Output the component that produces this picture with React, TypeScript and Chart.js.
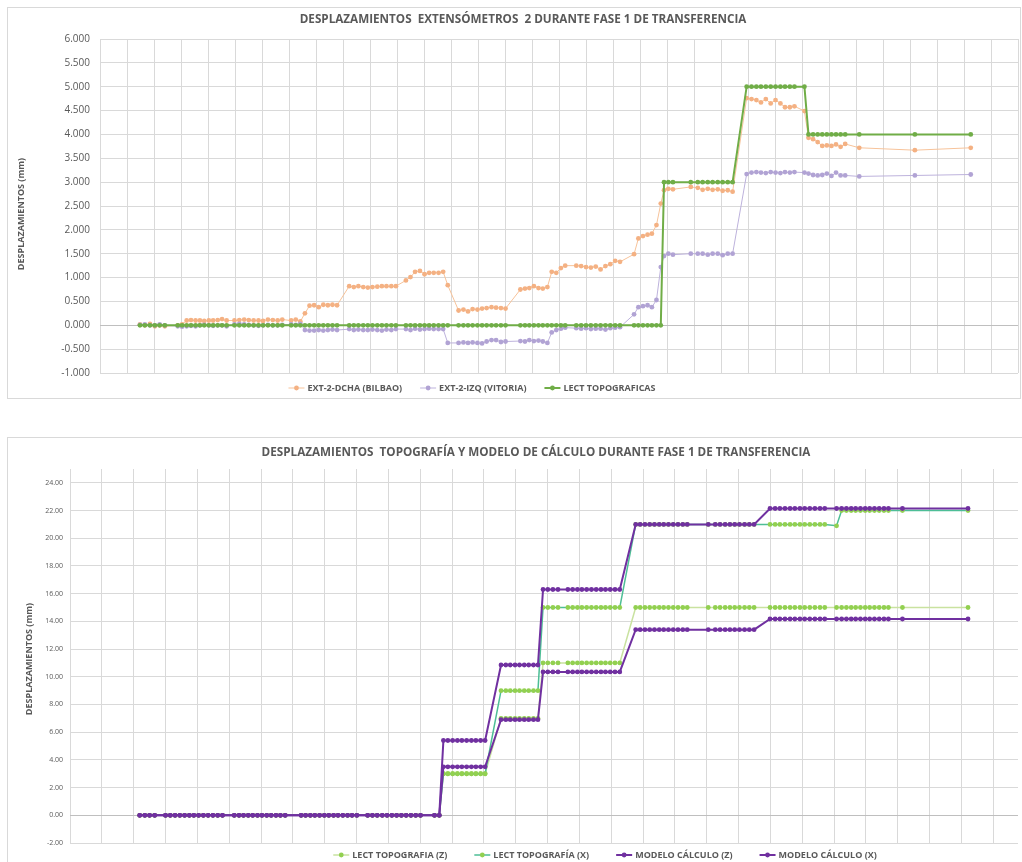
import React, { useEffect, useRef } from "react";
import { Chart, registerables } from "chart.js";
Chart.register(...registerables);

// ---------- TOP CHART DATA (x in grid units of the time axis) ----------
const topX = [
  1.48, 1.66, 1.85, 2.03, 2.21, 2.40,
  2.88, 3.04, 3.21, 3.37, 3.54, 3.70, 3.86, 4.03, 4.19, 4.36, 4.52, 4.69,
  4.98, 5.16, 5.34, 5.51, 5.69, 5.87, 6.04, 6.22, 6.40, 6.58, 6.75,
  7.08, 7.25, 7.42, 7.59, 7.76, 7.93, 8.10, 8.27, 8.44, 8.61, 8.78,
  9.23, 9.40, 9.57, 9.75, 9.92, 10.09, 10.27, 10.44, 10.61, 10.79, 10.96,
  11.33, 11.50, 11.67, 11.85, 12.02, 12.19, 12.36, 12.54, 12.71, 12.88,
  13.28, 13.46, 13.63, 13.80, 13.98, 14.15, 14.32, 14.50, 14.67, 14.85, 15.02,
  15.57, 15.74, 15.90, 16.07, 16.24, 16.40, 16.57, 16.73, 16.90, 17.07, 17.23,
  17.64, 17.82, 18.00, 18.18, 18.36, 18.54, 18.72, 18.90, 19.08, 19.26,
  19.78, 19.94, 20.11, 20.28, 20.44, 20.61, 20.77, 20.89, 21.05, 21.22,
  21.88,
  22.14, 22.32, 22.51, 22.69, 22.88, 23.06, 23.25, 23.43,
  23.95, 24.13, 24.31, 24.48, 24.66, 24.84, 25.02, 25.20, 25.37, 25.55, 25.72,
  26.09,
  26.24, 26.41, 26.58, 26.75, 26.92, 27.09, 27.26, 27.43, 27.60,
  28.12, 30.18, 32.25,
];

const extDchaBilbao = [
  0.02, 0.0, 0.03, -0.02, 0.0, -0.02,
  0.0, 0.02, 0.1, 0.11, 0.1, 0.1, 0.09, 0.1, 0.1, 0.11, 0.13, 0.1,
  0.1, 0.11, 0.12, 0.11, 0.1, 0.1, 0.09, 0.12, 0.11, 0.1, 0.12,
  0.1, 0.12, 0.08, 0.25, 0.41, 0.42, 0.38, 0.43, 0.42, 0.43, 0.42,
  0.82, 0.8, 0.82, 0.8, 0.79, 0.8, 0.81, 0.82, 0.82, 0.82, 0.82,
  0.94, 1.01, 1.12, 1.14, 1.07, 1.1, 1.1, 1.1, 1.12, 0.84,
  0.31, 0.33, 0.29, 0.34, 0.33, 0.35, 0.36, 0.38, 0.37, 0.36, 0.35,
  0.75, 0.77, 0.78, 0.82, 0.78, 0.77, 0.8, 1.12, 1.1, 1.2, 1.25,
  1.25, 1.24, 1.22, 1.21, 1.23, 1.17, 1.24, 1.28, 1.35, 1.33,
  1.49, 1.82, 1.87, 1.9, 1.92, 2.1, 2.55, 2.83, 2.86, 2.85,
  2.9,
  2.88, 2.84, 2.86, 2.84, 2.85, 2.82, 2.83, 2.8,
  4.76, 4.74, 4.72, 4.67, 4.74, 4.65, 4.72, 4.65, 4.57, 4.57, 4.59,
  4.49,
  3.93, 3.9, 3.84, 3.76, 3.77, 3.76, 3.79, 3.74, 3.8,
  3.72, 3.67, 3.72,
];

const extIzqVitoria = [
  0.01, 0.02, 0.0, 0.0, 0.02, 0.0,
  -0.02, -0.03, -0.02, -0.01, -0.02, 0.0, 0.01, 0.0, -0.01, 0.0, 0.0, -0.02,
  0.02, 0.03, 0.02, 0.01, 0.0, -0.01, 0.0, 0.01, 0.0, 0.0, 0.01,
  0.02, 0.01, 0.03, -0.1, -0.11, -0.11, -0.1, -0.11, -0.1, -0.09, -0.1,
  -0.08, -0.1, -0.09, -0.1, -0.1, -0.09, -0.1, -0.11, -0.09, -0.1, -0.08,
  -0.08, -0.1, -0.07, -0.09, -0.08, -0.07, -0.08, -0.08, -0.08, -0.37,
  -0.37, -0.36, -0.37, -0.36, -0.37, -0.38, -0.34, -0.31, -0.31, -0.35, -0.34,
  -0.33, -0.34, -0.31, -0.33, -0.32, -0.34, -0.37, -0.15, -0.1, -0.07, -0.05,
  -0.06, -0.07, -0.06, -0.08, -0.07, -0.07, -0.09, -0.06, -0.05, -0.04,
  0.23, 0.38, 0.4, 0.42, 0.38, 0.53, 1.22, 1.45, 1.5, 1.48,
  1.5,
  1.5, 1.5, 1.48, 1.5, 1.5, 1.47, 1.5, 1.5,
  3.17, 3.2, 3.21, 3.2, 3.19, 3.21, 3.2, 3.19, 3.21, 3.2, 3.21,
  3.2,
  3.18, 3.15, 3.14, 3.15, 3.18, 3.13, 3.2, 3.14, 3.14,
  3.12, 3.14, 3.16,
];

const lectTopograficas = [
  0, 0, 0, 0, 0, 0,
  0, 0, 0, 0, 0, 0, 0, 0, 0, 0, 0, 0,
  0, 0, 0, 0, 0, 0, 0, 0, 0, 0, 0,
  0, 0, 0, 0, 0, 0, 0, 0, 0, 0, 0,
  0, 0, 0, 0, 0, 0, 0, 0, 0, 0, 0,
  0, 0, 0, 0, 0, 0, 0, 0, 0, 0,
  0, 0, 0, 0, 0, 0, 0, 0, 0, 0, 0,
  0, 0, 0, 0, 0, 0, 0, 0, 0, 0, 0,
  0, 0, 0, 0, 0, 0, 0, 0, 0, 0,
  0, 0, 0, 0, 0, 0, 0, 3, 3, 3,
  3,
  3, 3, 3, 3, 3, 3, 3, 3,
  5, 5, 5, 5, 5, 5, 5, 5, 5, 5, 5,
  5,
  4, 4, 4, 4, 4, 4, 4, 4, 4,
  4, 4, 4,
];

const topYTicks = [-1, -0.5, 0, 0.5, 1, 1.5, 2, 2.5, 3, 3.5, 4, 4.5, 5, 5.5, 6];

// ---------- BOTTOM CHART DATA ----------
const botX = [
  2.19, 2.35, 2.50, 2.66,
  3.00, 3.15, 3.30, 3.45, 3.60, 3.75, 3.89, 4.04, 4.19, 4.34, 4.49, 4.64, 4.79,
  5.16, 5.31, 5.45, 5.60, 5.74, 5.89, 6.03, 6.18, 6.32, 6.47, 6.61, 6.76,
  7.26, 7.40, 7.55, 7.69, 7.84, 7.99, 8.13, 8.28, 8.42, 8.57, 8.72, 8.86, 9.01,
  9.35, 9.50, 9.65, 9.81, 9.96, 10.11, 10.26, 10.41, 10.56, 10.71, 10.86, 11.01,
  11.45, 11.60,
  11.73, 11.87, 12.02, 12.17, 12.31, 12.46, 12.61, 12.75, 12.90, 13.04,
  13.54, 13.69, 13.83, 13.98, 14.12, 14.27, 14.41, 14.56, 14.70,
  14.86, 15.01, 15.17, 15.33,
  15.64, 15.79, 15.94, 16.08, 16.23, 16.38, 16.53, 16.68, 16.82, 16.97, 17.12, 17.27,
  17.77, 17.91, 18.06, 18.21, 18.36, 18.51, 18.65, 18.80, 18.95, 19.10, 19.25, 19.39,
  20.05,
  20.27, 20.42, 20.58, 20.73, 20.88, 21.03, 21.19, 21.34, 21.49,
  21.99, 22.15, 22.30, 22.46, 22.62, 22.77, 22.93, 23.08, 23.24, 23.40, 23.56, 23.71,
  24.08,
  24.24, 24.39, 24.54, 24.68, 24.83, 24.98, 25.12, 25.27, 25.42, 25.57, 25.71,
  26.15,
  28.21,
];

const lectTopoZ = [
  0, 0, 0, 0,
  0, 0, 0, 0, 0, 0, 0, 0, 0, 0, 0, 0, 0,
  0, 0, 0, 0, 0, 0, 0, 0, 0, 0, 0, 0,
  0, 0, 0, 0, 0, 0, 0, 0, 0, 0, 0, 0, 0,
  0, 0, 0, 0, 0, 0, 0, 0, 0, 0, 0, 0,
  0, 0,
  3, 3, 3, 3, 3, 3, 3, 3, 3, 3,
  7, 7, 7, 7, 7, 7, 7, 7, 7,
  11, 11, 11, 11,
  11, 11, 11, 11, 11, 11, 11, 11, 11, 11, 11, 11,
  15, 15, 15, 15, 15, 15, 15, 15, 15, 15, 15, 15,
  15,
  15, 15, 15, 15, 15, 15, 15, 15, 15,
  15, 15, 15, 15, 15, 15, 15, 15, 15, 15, 15, 15,
  15,
  15, 15, 15, 15, 15, 15, 15, 15, 15, 15, 15,
  15,
  15,
];

const lectTopoX = [
  0, 0, 0, 0,
  0, 0, 0, 0, 0, 0, 0, 0, 0, 0, 0, 0, 0,
  0, 0, 0, 0, 0, 0, 0, 0, 0, 0, 0, 0,
  0, 0, 0, 0, 0, 0, 0, 0, 0, 0, 0, 0, 0,
  0, 0, 0, 0, 0, 0, 0, 0, 0, 0, 0, 0,
  0, 0,
  3, 3, 3, 3, 3, 3, 3, 3, 3, 3,
  9, 9, 9, 9, 9, 9, 9, 9, 9,
  15, 15, 15, 15,
  15, 15, 15, 15, 15, 15, 15, 15, 15, 15, 15, 15,
  21, 21, 21, 21, 21, 21, 21, 21, 21, 21, 21, 21,
  21,
  21, 21, 21, 21, 21, 21, 21, 21, 21,
  21, 21, 21, 21, 21, 21, 21, 21, 21, 21, 21, 21,
  20.9,
  22, 22, 22, 22, 22, 22, 22, 22, 22, 22, 22,
  22,
  22,
];

const modeloZ = [
  0, 0, 0, 0,
  0, 0, 0, 0, 0, 0, 0, 0, 0, 0, 0, 0, 0,
  0, 0, 0, 0, 0, 0, 0, 0, 0, 0, 0, 0,
  0, 0, 0, 0, 0, 0, 0, 0, 0, 0, 0, 0, 0,
  0, 0, 0, 0, 0, 0, 0, 0, 0, 0, 0, 0,
  0, 0,
  3.5, 3.5, 3.5, 3.5, 3.5, 3.5, 3.5, 3.5, 3.5, 3.5,
  6.9, 6.9, 6.9, 6.9, 6.9, 6.9, 6.9, 6.9, 6.9,
  10.35, 10.35, 10.35, 10.35,
  10.35, 10.35, 10.35, 10.35, 10.35, 10.35, 10.35, 10.35, 10.35, 10.35, 10.35, 10.35,
  13.4, 13.4, 13.4, 13.4, 13.4, 13.4, 13.4, 13.4, 13.4, 13.4, 13.4, 13.4,
  13.4,
  13.4, 13.4, 13.4, 13.4, 13.4, 13.4, 13.4, 13.4, 13.4,
  14.17, 14.17, 14.17, 14.17, 14.17, 14.17, 14.17, 14.17, 14.17, 14.17, 14.17, 14.17,
  14.17,
  14.17, 14.17, 14.17, 14.17, 14.17, 14.17, 14.17, 14.17, 14.17, 14.17, 14.17,
  14.17,
  14.17,
];

const modeloX = [
  0, 0, 0, 0,
  0, 0, 0, 0, 0, 0, 0, 0, 0, 0, 0, 0, 0,
  0, 0, 0, 0, 0, 0, 0, 0, 0, 0, 0, 0,
  0, 0, 0, 0, 0, 0, 0, 0, 0, 0, 0, 0, 0,
  0, 0, 0, 0, 0, 0, 0, 0, 0, 0, 0, 0,
  0, 0,
  5.4, 5.4, 5.4, 5.4, 5.4, 5.4, 5.4, 5.4, 5.4, 5.4,
  10.85, 10.85, 10.85, 10.85, 10.85, 10.85, 10.85, 10.85, 10.85,
  16.3, 16.3, 16.3, 16.3,
  16.3, 16.3, 16.3, 16.3, 16.3, 16.3, 16.3, 16.3, 16.3, 16.3, 16.3, 16.3,
  21, 21, 21, 21, 21, 21, 21, 21, 21, 21, 21, 21,
  21,
  21, 21, 21, 21, 21, 21, 21, 21, 21,
  22.15, 22.15, 22.15, 22.15, 22.15, 22.15, 22.15, 22.15, 22.15, 22.15, 22.15, 22.15,
  22.15,
  22.15, 22.15, 22.15, 22.15, 22.15, 22.15, 22.15, 22.15, 22.15, 22.15, 22.15,
  22.15,
  22.15,
];

const botYTicks = [-2, 0, 2, 4, 6, 8, 10, 12, 14, 16, 18, 20, 22, 24];

const TOP_TITLE = "DESPLAZAMIENTOS  EXTENSÓMETROS  2 DURANTE FASE 1 DE TRANSFERENCIA";
const BOT_TITLE = "DESPLAZAMIENTOS  TOPOGRAFÍA Y MODELO DE CÁLCULO DURANTE FASE 1 DE TRANSFERENCIA";
const Y_TITLE = "DESPLAZAMIENTOS (mm)";

const FONT = "'Open Sans', 'DejaVu Sans', sans-serif";
const TEXT = "#595959";
const GRID = "#D9D9D9";

const pts = (xs: number[], ys: number[]) => xs.map((x, i) => ({ x, y: ys[i] }));

type OverlayCfg = {
  title: { text: string; x: number; y: number; size: number };
  yTitle: { text: string; x: number; y: number; size: number };
  legend: { x: number; y: number; size: number; gap: number };
};

function makeOverlay(cfg: OverlayCfg) {
  return {
    id: "overlayText",
    afterDraw(chart: any) {
      const ctx: CanvasRenderingContext2D = chart.ctx;
      ctx.save();
      ctx.fillStyle = TEXT;
      ctx.textBaseline = "middle";
      // title
      ctx.font = `bold ${cfg.title.size}px ${FONT}`;
      ctx.textAlign = "center";
      ctx.fillText(cfg.title.text, cfg.title.x, cfg.title.y);
      // y title
      ctx.save();
      ctx.translate(cfg.yTitle.x, cfg.yTitle.y);
      ctx.rotate(-Math.PI / 2);
      ctx.font = `bold ${cfg.yTitle.size}px ${FONT}`;
      ctx.fillText(cfg.yTitle.text, 0, 0);
      ctx.restore();
      // legend
      ctx.font = `bold ${cfg.legend.size}px ${FONT}`;
      ctx.textAlign = "left";
      const sym = 16;
      const sgap = 3;
      const items = chart.data.datasets.map((d: any) => ({
        label: d.label,
        line: d.borderColor,
        point: d.pointBackgroundColor,
        lw: d.borderWidth,
        r: d.pointRadius,
        w: sym + sgap + ctx.measureText(d.label).width,
      }));
      const total = items.reduce((s: number, it: any) => s + it.w, 0) + cfg.legend.gap * (items.length - 1);
      let x = cfg.legend.x - total / 2;
      const cy = cfg.legend.y;
      for (const it of items) {
        ctx.strokeStyle = it.line;
        ctx.lineWidth = it.lw;
        ctx.beginPath();
        ctx.moveTo(x, cy);
        ctx.lineTo(x + sym, cy);
        ctx.stroke();
        ctx.fillStyle = it.point;
        ctx.beginPath();
        ctx.arc(x + sym / 2, cy, it.r, 0, Math.PI * 2);
        ctx.fill();
        ctx.fillStyle = TEXT;
        ctx.fillText(it.label, x + sym + sgap, cy + 0.5);
        x += it.w + cfg.legend.gap;
      }
      ctx.restore();
    },
  };
}

function TopChart() {
  const ref = useRef<HTMLCanvasElement>(null);
  useEffect(() => {
    const chart = new Chart(ref.current!, {
      type: "line",
      data: {
        datasets: [
          {
            label: "EXT-2-DCHA (BILBAO)",
            data: pts(topX, extDchaBilbao),
            borderColor: "#F7C39A",
            pointBackgroundColor: "#F4B183",
            pointBorderColor: "#F4B183",
            borderWidth: 1,
            pointRadius: 2.4,
            pointBorderWidth: 0,
            order: 2,
          } as any,
          {
            label: "EXT-2-IZQ (VITORIA)",
            data: pts(topX, extIzqVitoria),
            borderColor: "#BDB2DC",
            pointBackgroundColor: "#B1A3D4",
            pointBorderColor: "#B1A3D4",
            borderWidth: 1,
            pointRadius: 2.4,
            pointBorderWidth: 0,
            order: 1,
          },
          {
            label: "LECT TOPOGRAFICAS",
            data: pts(topX, lectTopograficas),
            borderColor: "#70AD47",
            pointBackgroundColor: "#70AD47",
            pointBorderColor: "#70AD47",
            borderWidth: 2,
            pointRadius: 2.4,
            pointBorderWidth: 0,
            order: 0,
          },
        ],
      },
      options: {
        animation: false,
        responsive: false,
        layout: { padding: { top: 39, bottom: 27, left: 0, right: 1 } },
        plugins: { legend: { display: false }, title: { display: false }, tooltip: { enabled: false } },
        scales: {
          x: {
            type: "linear",
            min: 0,
            max: 34,
            afterBuildTicks: (s: any) => {
              const t = [];
              for (let i = 0; i <= 34; i++) t.push({ value: i });
              s.ticks = t;
            },
            afterFit: (s: any) => { s.height = 0; },
            ticks: { display: false },
            grid: { color: GRID, drawTicks: false },
            border: { display: false },
          },
          y: {
            min: -1,
            max: 6,
            afterBuildTicks: (s: any) => { s.ticks = topYTicks.map((v) => ({ value: v })); },
            afterFit: (s: any) => { s.width = 100; },
            ticks: {
              padding: 10,
              color: TEXT,
              font: { family: FONT, size: 10 },
              callback: (v: any) => Number(v).toFixed(3),
            },
            grid: { color: (c: any) => (c.tick && c.tick.value === 0 ? "#BFBFBF" : GRID), drawTicks: false },
            border: { display: false },
          },
        },
      },
      plugins: [
        makeOverlay({
          title: { text: TOP_TITLE, x: 523, y: 20, size: 11.7 },
          yTitle: { text: Y_TITLE, x: 21, y: 214, size: 9 },
          legend: { x: 472, y: 388, size: 9, gap: 18 },
        }),
      ],
    } as any);
    return () => chart.destroy();
  }, []);
  return <canvas ref={ref} width={1022} height={400} style={{ display: "block" }} />;
}

function BottomChart() {
  const ref = useRef<HTMLCanvasElement>(null);
  useEffect(() => {
    const chart = new Chart(ref.current!, {
      type: "line",
      data: {
        datasets: [
          {
            label: "LECT TOPOGRAFIA (Z)",
            data: pts(botX, lectTopoZ),
            borderColor: "#C9E2A0",
            pointBackgroundColor: "#92D050",
            pointBorderColor: "#92D050",
            borderWidth: 1.5,
            pointRadius: 2.4,
            pointBorderWidth: 0,
            order: 3,
          } as any,
          {
            label: "LECT TOPOGRAFÍA (X)",
            data: pts(botX, lectTopoX),
            borderColor: "#4DBE96",
            pointBackgroundColor: "#92D050",
            pointBorderColor: "#92D050",
            borderWidth: 1.5,
            pointRadius: 2.4,
            pointBorderWidth: 0,
            order: 2,
          },
          {
            label: "MODELO CÁLCULO (Z)",
            data: pts(botX, modeloZ),
            borderColor: "#7030A0",
            pointBackgroundColor: "#7030A0",
            pointBorderColor: "#7030A0",
            borderWidth: 2,
            pointRadius: 2.4,
            pointBorderWidth: 0,
            order: 1,
          },
          {
            label: "MODELO CÁLCULO (X)",
            data: pts(botX, modeloX),
            borderColor: "#7030A0",
            pointBackgroundColor: "#7030A0",
            pointBorderColor: "#7030A0",
            borderWidth: 2,
            pointRadius: 2.4,
            pointBorderWidth: 0,
            order: 0,
          },
        ],
      },
      options: {
        animation: false,
        responsive: false,
        layout: { padding: { top: 32, bottom: 19, left: 0, right: 0 } },
        plugins: { legend: { display: false }, title: { display: false }, tooltip: { enabled: false } },
        scales: {
          x: {
            type: "linear",
            min: 0,
            max: 29.78,
            afterBuildTicks: (s: any) => {
              const t = [];
              for (let i = 0; i <= 29; i++) t.push({ value: i });
              s.ticks = t;
            },
            afterFit: (s: any) => { s.height = 0; },
            ticks: { display: false },
            grid: { color: GRID, drawTicks: false },
            border: { display: false },
          },
          y: {
            min: -2,
            max: 25,
            afterBuildTicks: (s: any) => { s.ticks = botYTicks.map((v) => ({ value: v })); },
            afterFit: (s: any) => { s.width = 70; },
            ticks: {
              padding: 7,
              color: TEXT,
              font: { family: FONT, size: 7 },
              callback: (v: any) => Number(v).toFixed(2),
            },
            grid: { color: (c: any) => (c.tick && c.tick.value === 0 ? "#BFBFBF" : GRID), drawTicks: false },
            border: { display: false },
          },
        },
      },
      plugins: [
        makeOverlay({
          title: { text: BOT_TITLE, x: 536, y: 16, size: 11.7 },
          yTitle: { text: Y_TITLE, x: 29, y: 222, size: 9 },
          legend: { x: 605, y: 418, size: 9, gap: 27 },
        }),
      ],
    } as any);
    return () => chart.destroy();
  }, []);
  return <canvas ref={ref} width={1022} height={425} style={{ display: "block" }} />;
}

export default function App() {
  return (
    <div style={{ position: "absolute", left: 0, top: 0, width: 1022, height: 862, background: "#fff", overflow: "hidden" }}>
      <div style={{ position: "absolute", left: 7, top: 7, width: 1012, height: 390, border: "1px solid #D9D9D9" }} />
      <div style={{ position: "absolute", left: 7, top: 437, width: 1030, height: 440, border: "1px solid #D9D9D9" }} />
      <div style={{ position: "absolute", left: 0, top: 0 }}>
        <TopChart />
      </div>
      <div style={{ position: "absolute", left: 0, top: 437 }}>
        <BottomChart />
      </div>
    </div>
  );
}
